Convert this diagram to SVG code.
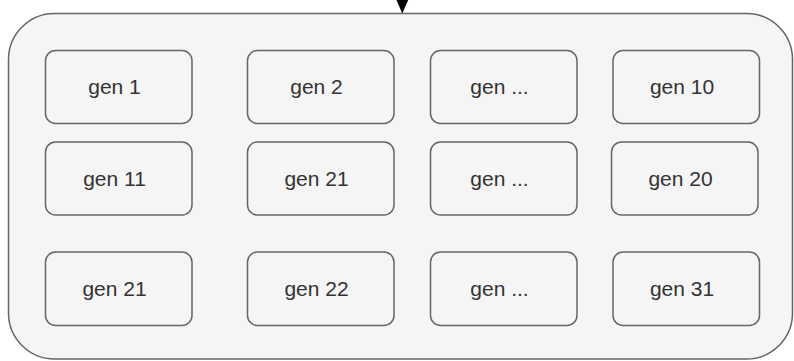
<svg xmlns="http://www.w3.org/2000/svg" width="794" height="361" viewBox="0 0 794 361">
<style>
.box{fill:#f5f5f5;stroke:#666;stroke-width:1.5}
.outer{fill:#f5f5f5;stroke:#666;stroke-width:1.5}
.lbl{font-family:"Liberation Sans",Arial,sans-serif;font-size:21px;fill:#333;text-anchor:middle}
</style>
<rect width="794" height="361" fill="#ffffff"/>
<g id="container">
<rect class="outer" x="8.5" y="13.5" width="784" height="345.5" rx="46" ry="46"/>
</g>
<g id="connectors">
<line x1="402.3" y1="-10" x2="402.3" y2="5" stroke="#000" stroke-width="1.5"/>
<polygon points="396,-1 408.6,-1 402.3,13.5" fill="#000"/>
</g>
<g id="n1"><rect class="box" x="45.5" y="50.5" width="146.5" height="73" rx="10"/><text class="lbl" x="114.5" y="94">gen 1</text></g>
<g id="n2"><rect class="box" x="247.5" y="50.5" width="146.5" height="73" rx="10"/><text class="lbl" x="316.5" y="94">gen 2</text></g>
<g id="n3"><rect class="box" x="430.5" y="50.5" width="146.5" height="73" rx="10"/><text class="lbl" x="499.5" y="94">gen ...</text></g>
<g id="n4"><rect class="box" x="613" y="50.5" width="146.5" height="73" rx="10"/><text class="lbl" x="682" y="94">gen 10</text></g>
<g id="n5"><rect class="box" x="45.5" y="142" width="146.5" height="73" rx="10"/><text class="lbl" x="114.5" y="185.5">gen 11</text></g>
<g id="n6"><rect class="box" x="247.5" y="142" width="146.5" height="73" rx="10"/><text class="lbl" x="316.5" y="185.5">gen 21</text></g>
<g id="n7"><rect class="box" x="430.5" y="142" width="146.5" height="73" rx="10"/><text class="lbl" x="499.5" y="185.5">gen ...</text></g>
<g id="n8"><rect class="box" x="611.5" y="142" width="146.5" height="73" rx="10"/><text class="lbl" x="680.5" y="185.5">gen 20</text></g>
<g id="n9"><rect class="box" x="45.5" y="252" width="146.5" height="73.5" rx="10"/><text class="lbl" x="114.5" y="295.5">gen 21</text></g>
<g id="n10"><rect class="box" x="247.5" y="252" width="146.5" height="73.5" rx="10"/><text class="lbl" x="316.5" y="295.5">gen 22</text></g>
<g id="n11"><rect class="box" x="430.5" y="252" width="146.5" height="73.5" rx="10"/><text class="lbl" x="499.5" y="295.5">gen ...</text></g>
<g id="n12"><rect class="box" x="613" y="252" width="146.5" height="73.5" rx="10"/><text class="lbl" x="682" y="295.5">gen 31</text></g>
</svg>
